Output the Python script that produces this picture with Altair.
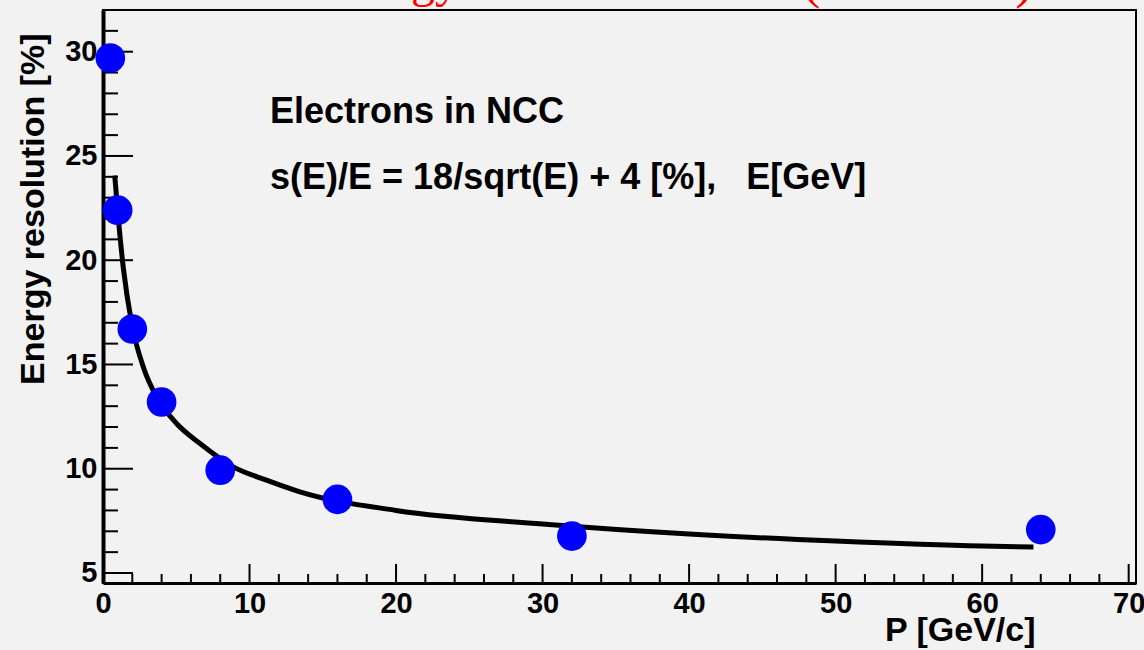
import altair as alt
import pandas as pd

# measured points
P = [0.5, 1, 2, 4, 8, 16, 32, 64]
RES = [29.7, 22.4, 16.7, 13.2, 9.93, 8.53, 6.77, 7.08]

# fitted curve
CURVE_P = [0.8, 1.04, 1.38, 1.96, 2.75, 3.66, 5.02, 6.62, 8.89, 11.16, 13.44, 20, 30, 40, 50, 60, 63.5]
CURVE_R = [24.06, 22.06, 19.67, 16.96, 14.88, 13.44, 12.17, 11.21, 10.09, 9.45, 8.89, 8.0, 7.35, 6.87, 6.53, 6.29, 6.25]

X_LABELS = [0, 10, 20, 30, 40, 50, 60, 70]
Y_LABELS = [5, 10, 15, 20, 25, 30]
X_MAJOR = [10, 20, 30, 40, 50, 60, 70]
X_MINOR = [v for v in range(2, 70, 2) if v % 10 != 0]
Y_MAJOR = [5, 10, 15, 20, 25, 30]
Y_MINOR = [v for v in range(6, 32) if v % 5 != 0]

NB = "\u00a0"
NOTE_TEXT = ["Electrons in NCC",
             "s(E)/E = 18/sqrt(E) + 4 [%]," + NB * 3 + "E[GeV]"]
NOTE_P = [11.4, 11.4]
NOTE_R = [26.58, 23.42]

TITLE_TEXT = ["Energy resolution", "(electrons)"]
TITLE_P = [14.9, 55.6]
TITLE_R = [32.6, 32.6]
TITLE_ALIGN = ["left", "center"]

W, H = 1033, 573
FONT = "Liberation Sans"

xs = alt.Scale(domain=[0, 70.5], nice=False, zero=False)
ys = alt.Scale(domain=[4.52, 32], nice=False, zero=False)

xaxis = alt.Axis(values=X_LABELS, title="P [GeV/c]", ticks=False, grid=False,
                 domain=True, domainColor="black", domainWidth=3,
                 labelFont=FONT, labelFontWeight="bold", labelFontSize=29,
                 labelColor="black", labelPadding=6, labelFlush=False,
                 titleFont=FONT, titleFontWeight="bold", titleFontSize=34,
                 titleColor="black", titleAnchor="end", titleAlign="right",
                 titleX=932, titleY=57, titleBaseline="alphabetic")
yaxis = alt.Axis(values=Y_LABELS, title="Energy resolution [%]", ticks=False, grid=False,
                 domain=True, domainColor="black", domainWidth=4,
                 labelFont=FONT, labelFontWeight="bold", labelFontSize=29,
                 labelColor="black", labelPadding=6, labelFlush=False,
                 titleFont=FONT, titleFontWeight="bold", titleFontSize=34,
                 titleColor="black", titleAngle=270, titleAnchor="end",
                 titleAlign="right", titleBaseline="alphabetic",
                 titleX=-60, titleY=23)

X = alt.X("P:Q", scale=xs, axis=xaxis)
Y = alt.Y("res:Q", scale=ys, axis=yaxis)

pts = pd.DataFrame({"P": P, "res": RES})
curve = pd.DataFrame({"P": CURVE_P, "res": CURVE_R})
ymaj = pd.DataFrame({"res": Y_MAJOR})
ymin = pd.DataFrame({"res": Y_MINOR})
xmaj = pd.DataFrame({"P": X_MAJOR})
xmin = pd.DataFrame({"P": X_MINOR})
notes = pd.DataFrame({"P": NOTE_P, "res": NOTE_R, "t": NOTE_TEXT})
titles = pd.DataFrame({"P": TITLE_P, "res": TITLE_R, "t": TITLE_TEXT, "a": TITLE_ALIGN})

base_pts = alt.Chart(pts).mark_point(filled=True, shape="circle", size=880,
                                      color="#0000ff", opacity=1).encode(x=X, y=Y)
line = alt.Chart(curve).mark_line(color="black", strokeWidth=5,
                                  interpolate="monotone").encode(x=X, y=Y)

ymaj_l = alt.Chart(ymaj).mark_rule(color="black", strokeWidth=2).encode(
    y=Y, x=alt.value(0), x2=alt.value(30))
ymin_l = alt.Chart(ymin).mark_rule(color="black", strokeWidth=2).encode(
    y=Y, x=alt.value(0), x2=alt.value(15))
xmaj_l = alt.Chart(xmaj).mark_rule(color="black", strokeWidth=2).encode(
    x=X, y=alt.value(H), y2=alt.value(H - 19))
xmin_l = alt.Chart(xmin).mark_rule(color="black", strokeWidth=2).encode(
    x=X, y=alt.value(H), y2=alt.value(H - 9))

note_l = alt.Chart(notes).mark_text(font=FONT, fontWeight="bold", fontSize=36,
                                    align="left", baseline="alphabetic",
                                    color="black").encode(x=X, y=Y, text="t:N")
title_left = alt.Chart(titles[titles.a == "left"]).mark_text(
    font="Liberation Serif", fontSize=48, align="left", baseline="alphabetic",
    color="#ff0000").encode(x=X, y=Y, text="t:N")
title_right = alt.Chart(titles[titles.a == "center"]).mark_text(
    font="Liberation Serif", fontSize=54, align="center", baseline="alphabetic",
    color="#ff0000").encode(x=X, y=Y, text="t:N")

chart = alt.layer(
    ymaj_l, ymin_l, xmaj_l, xmin_l, line, base_pts, note_l, title_left, title_right
).properties(
    width=W, height=H,
    autosize=alt.AutoSizeParams(type="none"),
    padding={"left": 103, "top": 10, "right": 8, "bottom": 67},
    background="#f2f2f2",
).configure_view(stroke="black", strokeWidth=2, fill="#f2f2f2")

chart.save("out.html", embed_options={"renderer": "svg", "actions": False})
